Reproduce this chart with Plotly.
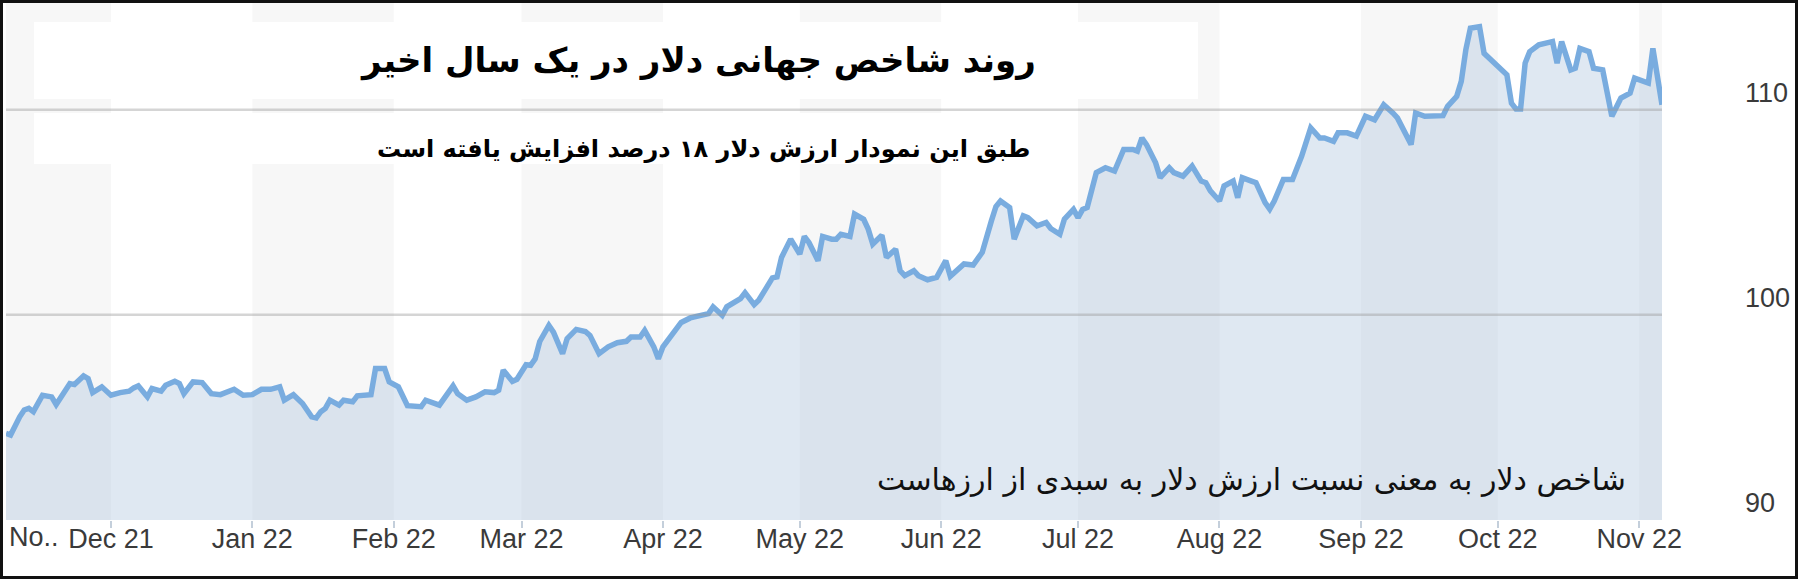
import plotly.graph_objects as go

# DXY daily closes (Nov 2021 - Nov 2022)
dates = [
    "2021-11-08", "2021-11-09", "2021-11-11", "2021-11-12", "2021-11-13", "2021-11-14", "2021-11-16",
    "2021-11-18", "2021-11-19", "2021-11-21", "2021-11-22", "2021-11-23", "2021-11-25", "2021-11-26",
    "2021-11-27", "2021-11-29", "2021-12-01", "2021-12-03", "2021-12-05", "2021-12-06", "2021-12-07",
    "2021-12-09", "2021-12-10", "2021-12-12", "2021-12-13", "2021-12-15", "2021-12-16", "2021-12-17",
    "2021-12-19", "2021-12-21", "2021-12-23", "2021-12-25", "2021-12-28", "2021-12-30", "2022-01-01",
    "2022-01-03", "2022-01-05", "2022-01-07", "2022-01-08", "2022-01-10", "2022-01-12", "2022-01-14",
    "2022-01-15", "2022-01-16", "2022-01-17", "2022-01-18", "2022-01-20", "2022-01-21", "2022-01-23",
    "2022-01-24", "2022-01-26", "2022-01-27", "2022-01-28", "2022-01-30", "2022-01-31", "2022-02-02",
    "2022-02-04", "2022-02-06", "2022-02-07", "2022-02-08", "2022-02-10", "2022-02-11", "2022-02-14",
    "2022-02-15", "2022-02-17", "2022-02-19", "2022-02-21", "2022-02-23", "2022-02-24", "2022-02-25",
    "2022-02-27", "2022-02-28", "2022-03-02", "2022-03-03", "2022-03-04", "2022-03-05", "2022-03-07",
    "2022-03-08", "2022-03-10", "2022-03-11", "2022-03-13", "2022-03-15", "2022-03-16", "2022-03-18",
    "2022-03-20", "2022-03-22", "2022-03-24", "2022-03-25", "2022-03-27", "2022-03-28", "2022-03-30",
    "2022-03-31", "2022-04-01", "2022-04-03", "2022-04-05", "2022-04-07", "2022-04-10", "2022-04-11",
    "2022-04-12", "2022-04-14", "2022-04-15", "2022-04-17", "2022-04-18", "2022-04-19", "2022-04-21",
    "2022-04-22", "2022-04-24", "2022-04-25", "2022-04-26", "2022-04-27", "2022-04-29", "2022-05-01",
    "2022-05-02", "2022-05-03", "2022-05-05", "2022-05-06", "2022-05-08", "2022-05-09", "2022-05-10",
    "2022-05-12", "2022-05-13", "2022-05-15", "2022-05-16", "2022-05-17", "2022-05-19", "2022-05-20",
    "2022-05-22", "2022-05-23", "2022-05-24", "2022-05-26", "2022-05-27", "2022-05-29", "2022-05-31",
    "2022-06-02", "2022-06-03", "2022-06-05", "2022-06-06", "2022-06-08", "2022-06-10", "2022-06-12",
    "2022-06-13", "2022-06-14", "2022-06-16", "2022-06-17", "2022-06-19", "2022-06-20", "2022-06-22",
    "2022-06-24", "2022-06-25", "2022-06-27", "2022-06-28", "2022-06-30", "2022-07-01", "2022-07-02",
    "2022-07-03", "2022-07-05", "2022-07-07", "2022-07-09", "2022-07-11", "2022-07-13", "2022-07-14",
    "2022-07-15", "2022-07-16", "2022-07-18", "2022-07-19", "2022-07-21", "2022-07-22", "2022-07-24",
    "2022-07-26", "2022-07-28", "2022-07-29", "2022-07-30", "2022-08-01", "2022-08-02", "2022-08-04",
    "2022-08-05", "2022-08-06", "2022-08-08", "2022-08-09", "2022-08-11", "2022-08-12", "2022-08-13",
    "2022-08-15", "2022-08-17", "2022-08-19", "2022-08-21", "2022-08-23", "2022-08-24", "2022-08-26",
    "2022-08-27", "2022-08-29", "2022-08-31", "2022-09-02", "2022-09-04", "2022-09-06", "2022-09-08",
    "2022-09-09", "2022-09-12", "2022-09-13", "2022-09-15", "2022-09-17", "2022-09-19", "2022-09-20",
    "2022-09-22", "2022-09-23", "2022-09-24", "2022-09-25", "2022-09-27", "2022-09-28", "2022-09-30",
    "2022-10-01", "2022-10-03", "2022-10-04", "2022-10-05", "2022-10-06", "2022-10-07", "2022-10-08",
    "2022-10-10", "2022-10-12", "2022-10-13", "2022-10-14", "2022-10-15", "2022-10-17", "2022-10-18",
    "2022-10-19", "2022-10-21", "2022-10-22", "2022-10-24", "2022-10-25", "2022-10-26", "2022-10-28",
    "2022-10-30", "2022-10-31", "2022-11-02", "2022-11-03", "2022-11-04", "2022-11-05", "2022-11-06",
]
dxy = [
    94.22, 94.14, 95.03, 95.36, 95.44, 95.28, 96.08,
    96.00, 95.63, 96.25, 96.65, 96.60, 97.02, 96.89,
    96.21, 96.49, 96.08, 96.21, 96.28, 96.44, 96.54,
    96.00, 96.41, 96.28, 96.57, 96.76, 96.65, 96.16,
    96.73, 96.70, 96.16, 96.11, 96.37, 96.08, 96.11,
    96.37, 96.37, 96.49, 95.84, 96.11, 95.68, 95.03,
    94.98, 95.28, 95.44, 95.84, 95.60, 95.84, 95.76,
    96.05, 96.08, 96.11, 97.38, 97.38, 96.73, 96.49,
    95.57, 95.57, 95.52, 95.84, 95.68, 95.60, 96.54,
    96.16, 95.84, 96.00, 96.25, 96.21, 96.33, 97.30,
    96.76, 96.86, 97.57, 97.54, 97.86, 98.70, 99.48,
    99.16, 98.11, 98.84, 99.29, 99.19, 99.00, 98.11,
    98.44, 98.64, 98.71, 98.92, 98.92, 99.24, 98.44,
    97.86, 98.44, 99.00, 99.63, 99.85, 99.98, 100.06,
    100.39, 99.98, 100.39, 100.63, 100.79, 101.08, 100.50,
    100.71, 101.44, 101.80, 101.85, 102.80, 103.69, 102.96,
    103.82, 103.53, 102.64, 103.82, 103.69, 103.69, 103.93,
    103.82, 104.91, 104.66, 104.18, 103.45, 103.88, 102.80,
    103.20, 102.15, 101.91, 102.15, 101.91, 101.71, 101.83,
    102.64, 101.88, 102.32, 102.48, 102.43, 103.05, 104.58,
    105.28, 105.55, 105.23, 103.69, 104.83, 104.74, 104.34,
    104.50, 104.21, 103.93, 104.66, 105.14, 104.74, 105.14,
    105.23, 106.93, 107.17, 107.01, 108.06, 108.06, 107.98,
    108.62, 108.30, 107.41, 106.69, 107.17, 106.93, 106.76,
    107.25, 106.52, 106.44, 106.04, 105.55, 106.28, 106.52,
    105.71, 106.69, 106.52, 106.44, 105.47, 105.15, 105.55,
    106.60, 106.60, 107.73, 109.11, 108.62, 108.62, 108.46,
    108.87, 108.87, 108.71, 109.68, 109.51, 110.24, 109.84,
    109.60, 108.30, 109.84, 109.68, 109.71, 109.71, 110.16,
    110.65, 111.38, 112.92, 113.97, 114.05, 112.75, 112.35,
    112.10, 111.70, 110.32, 110.03, 110.03, 112.27, 112.83,
    113.16, 113.27, 113.32, 112.27, 113.32, 111.94, 112.02,
    112.99, 112.83, 112.02, 111.94, 110.81, 109.68, 110.57,
    110.81, 111.54, 111.38, 111.30, 112.99, 111.62, 110.24,
]

month_starts = ["2021-12-01", "2022-01-01", "2022-02-01", "2022-03-01", "2022-04-01", "2022-05-01",
                "2022-06-01", "2022-07-01", "2022-08-01", "2022-09-01", "2022-10-01", "2022-11-01"]
month_labels = ["Dec 21", "Jan 22", "Feb 22", "Mar 22", "Apr 22", "May 22",
                "Jun 22", "Jul 22", "Aug 22", "Sep 22", "Oct 22", "Nov 22"]
y_ticks = [90, 100, 110]

title = "روند شاخص جهانی دلار در یک سال اخیر"
subtitle = "طبق این نمودار ارزش دلار ۱۸ درصد افزایش یافته است"
note = "شاخص دلار به معنی نسبت ارزش دلار به سبدی از ارزهاست"

W, H = 1798, 579
ML, MR, MT, MB = 6, 136, 3, 59
x_range = [dates[0], dates[-1]]
tick_font = dict(family="Liberation Sans Narrow, Liberation Sans, sans-serif", size=27, color="#3a3a3a")
fa_font = "DejaVu Sans"
pw, ph = W - ML - MR, H - MT - MB


def px(x):
    return (x - ML) / pw


def py(y):
    return (H - MB - y) / ph


fig = go.Figure()
fig.add_trace(go.Scatter(
    x=dates, y=dxy, mode="lines", fill="tozeroy",
    fillcolor="rgba(176,198,222,0.4)",
    line=dict(color="#79acdf", width=5.5),
    hoverinfo="skip", showlegend=False,
))

# alternating month bands
bounds = [x_range[0]] + month_starts + [x_range[1]]
shapes = []
for i in range(len(bounds) - 1):
    if i % 2 == 0:
        shapes.append(dict(type="rect", xref="x", yref="paper", x0=bounds[i], x1=bounds[i + 1],
                           y0=0, y1=1, fillcolor="#f7f7f7", line_width=0, layer="below"))
# white boxes behind the title lines
shapes.append(dict(type="rect", xref="paper", yref="paper", x0=px(34), x1=px(1198), y0=py(99), y1=py(22),
                   fillcolor="white", line_width=0, layer="below"))
shapes.append(dict(type="rect", xref="paper", yref="paper", x0=px(34), x1=px(1060), y0=py(164), y1=py(113),
                   fillcolor="white", line_width=0, layer="below"))
# grid lines drawn above the area, as in the picture
for v in y_ticks[1:]:
    shapes.append(dict(type="line", xref="paper", yref="y", x0=0, x1=1, y0=v, y1=v,
                       line=dict(color="rgba(150,150,150,0.4)", width=2.5), layer="above"))
# black frame around the whole picture
shapes.append(dict(type="rect", xref="paper", yref="paper",
                   x0=px(1.5), x1=px(W - 1.5), y0=py(H - 1.5), y1=py(1.5),
                   line=dict(color="#111", width=3), fillcolor="rgba(0,0,0,0)", layer="above"))

annotations = [
    dict(text=title, xref="paper", yref="paper", x=px(1038), y=py(60), xanchor="right", yanchor="middle",
         showarrow=False, font=dict(family=fa_font, size=34, color="#000", weight="bold")),
    dict(text=subtitle, xref="paper", yref="paper", x=px(1032), y=py(149), xanchor="right", yanchor="middle",
         showarrow=False, font=dict(family=fa_font, size=24, color="#000", weight="bold")),
    dict(text=note, xref="paper", yref="paper", x=px(1628), y=py(479), xanchor="right", yanchor="middle",
         showarrow=False, font=dict(family=fa_font, size=30, color="#111")),
    dict(text="No..", xref="paper", yref="paper", x=0, y=0, xanchor="left", yanchor="top",
         xshift=1, yshift=0, showarrow=False, font=tick_font),
]

fig.update_layout(
    width=W, height=H,
    margin=dict(l=ML, r=MR, t=MT, b=MB),
    paper_bgcolor="white", plot_bgcolor="white",
    shapes=shapes, annotations=annotations,
    xaxis=dict(range=x_range, tickvals=month_starts, ticktext=month_labels,
               showgrid=False, zeroline=False, showline=False,
               ticks="outside", ticklen=7, tickwidth=2, tickcolor="#c4cfdb",
               tickfont=tick_font, ticklabelstandoff=-12),
    yaxis=dict(range=[90, 115.2], tickvals=y_ticks, side="right", showgrid=False, zeroline=False,
               showline=False, tickfont=tick_font, ticklabelstandoff=82, ticklabelshift=-17),
)

fig.write_html("out.html", config={"displayModeBar": False},
               post_script="document.body.style.margin='0';")
